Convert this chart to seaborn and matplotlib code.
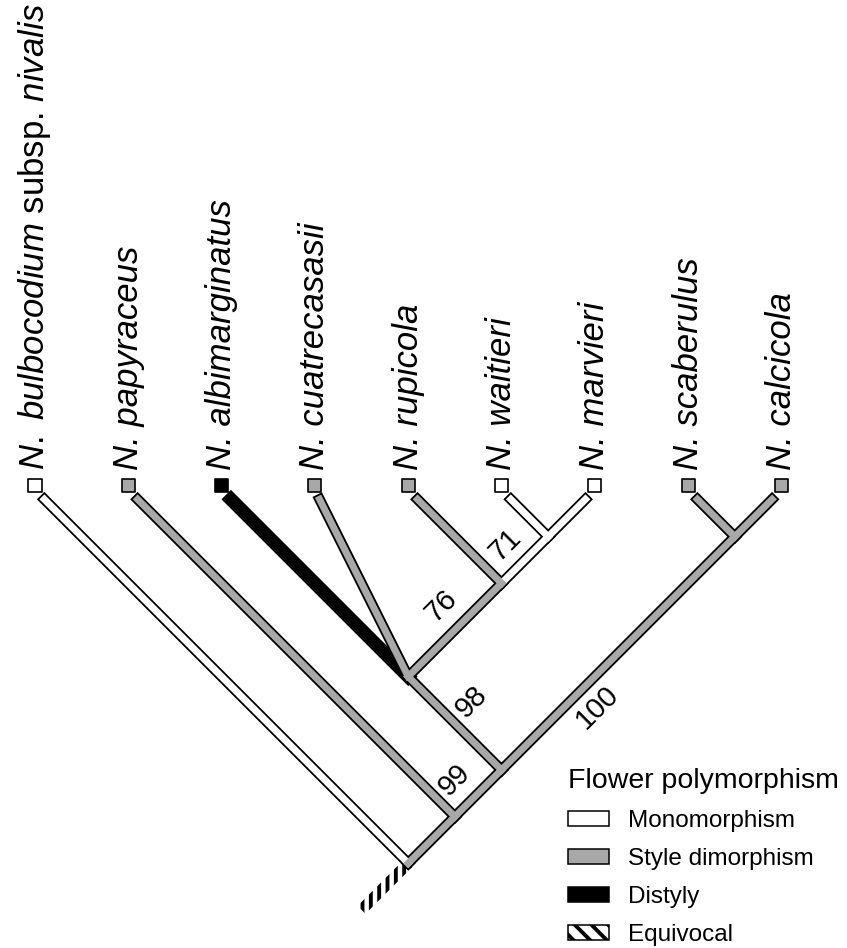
import numpy as np
import pandas as pd
import seaborn as sns
import matplotlib.pyplot as plt
from matplotlib.patches import Patch, Polygon

# tips, left to right
tips = ["N. bulbocodium subsp. nivalis", "N. papyraceus", "N. albimarginatus",
        "N. cuatrecasasii", "N. rupicola", "N. waitieri", "N. marvieri",
        "N. scaberulus", "N. calcicola"]
tip_states = ["Monomorphism", "Style dimorphism", "Distyly", "Style dimorphism",
              "Style dimorphism", "Monomorphism", "Monomorphism",
              "Style dimorphism", "Style dimorphism"]

# internal nodes (children left to right), state of the branch below each node
node_names = ["F", "E", "C", "D", "B", "A", "root"]
node_children = [["N. waitieri", "N. marvieri"],
                 ["N. rupicola", "F"],
                 ["N. albimarginatus", "N. cuatrecasasii", "E"],
                 ["N. scaberulus", "N. calcicola"],
                 ["C", "D"],
                 ["N. papyraceus", "B"],
                 ["N. bulbocodium subsp. nivalis", "A"]]
node_states = ["Monomorphism", "Style dimorphism", "Style dimorphism",
               "Style dimorphism", "Style dimorphism", "Style dimorphism",
               "Equivocal"]
node_support = [71, 76, 98, 100, 99, None, None]

legend_states = ["Monomorphism", "Style dimorphism", "Distyly", "Equivocal"]

palette = {"Monomorphism": "white", "Style dimorphism": "#a8a8a8",
           "Distyly": "black", "Equivocal": "white"}

# where the support numbers sit, relative to their node
label_offsets = {"F": (-0.46, 0.09), "E": (-0.64, 0.24), "C": (0.68, 0.27),
                 "D": (-1.47, 1.83), "B": (-0.50, 0.11)}

sns.set_theme(style="white")
plt.rcParams['font.family'] = ['Liberation Sans', 'DejaVu Sans']
plt.rcParams['text.color'] = 'black'
plt.rcParams['legend.labelcolor'] = 'black'
plt.rcParams['mathtext.fontset'] = 'custom'
plt.rcParams['mathtext.rm'] = 'Liberation Sans'
plt.rcParams['mathtext.it'] = 'Liberation Sans:italic'
plt.rcParams['hatch.linewidth'] = 2.8

# slanted cladogram layout: x = tip index, y = depth below the tips
pos = {name: (float(i), 0.0) for i, name in enumerate(tips)}
state = dict(zip(tips, tip_states))
for name, kids, st in zip(node_names, node_children, node_states):
    xa, da = pos[kids[0]]
    xb, db = pos[kids[-1]]
    d = (xb - xa + da + db) / 2
    pos[name] = (xa + d - da, d)
    state[name] = st

rows = []
tip_gap = 0.1
for name, kids in zip(node_names, node_children):
    xn, dn = pos[name]
    for k in kids:
        xc, dc = pos[k]
        if k in tips:
            t = tip_gap / (dn - dc)
            xc, dc = xc + t * (xn - xc), dc + t * (dn - dc)
        rows.append({"branch": k, "state": state[k], "x": xc, "d": dc, "o": 0})
        rows.append({"branch": k, "state": state[k], "x": xn, "d": dn, "o": 1})
branches = pd.DataFrame(rows)

fig = plt.figure(figsize=(8.47, 9.48), dpi=100)
ax = fig.add_axes([0, 0, 1, 1])

# outlines
sns.lineplot(data=branches, x="x", y="d", units="branch", estimator=None,
             sort=False, color="black", lw=7.6, solid_capstyle="projecting",
             ax=ax, legend=False)
sns.lineplot(data=branches[branches.state == "Distyly"], x="x", y="d",
             units="branch", estimator=None, sort=False, color="black",
             lw=9.4, solid_capstyle="projecting", ax=ax, legend=False)
# fills
order = ["Distyly", "Monomorphism", "Style dimorphism"]
for st in order:
    sub = branches[branches.state == st]
    sns.lineplot(data=sub, x="x", y="d", units="branch", estimator=None,
                 sort=False, color=palette[st], lw=5.0 if st != "Distyly" else 9.4,
                 solid_capstyle="projecting", ax=ax, legend=False)

# hatched stem below the root
xr, dr = pos["root"]
stem_len = 0.5
hw = 0.06
sx, sd = xr - stem_len, dr + stem_len
px, pd_ = hw / np.sqrt(2), hw / np.sqrt(2)
stem = Polygon([(xr + px, dr + pd_), (xr - px, dr - pd_),
                (sx - px, sd - pd_), (sx + px, sd + pd_)],
               closed=True, facecolor="white", edgecolor="black", lw=0,
               hatch="||", zorder=1)
ax.add_patch(stem)

# tip squares
sns.scatterplot(x=np.arange(len(tips)), y=np.full(len(tips), -0.045),
                hue=tip_states, palette=palette, marker="s", s=90,
                edgecolor="black", linewidth=1.2, legend=False, ax=ax, zorder=5)

# tip labels
for i, name in enumerate(tips):
    if "subsp." in name:
        label = r"$\mathit{N.\ bulbocodium}$ subsp. $\mathit{nivalis}$"
        ax.text(i, -0.21, label, rotation=90, ha="center", va="bottom",
                fontsize=25)
    else:
        ax.text(i, -0.21, name, rotation=90, ha="center", va="bottom",
                fontsize=25, style="italic")

# support values
for name, sup in zip(node_names, node_support):
    if sup is None:
        continue
    dx, dd = label_offsets[name]
    x, d = pos[name]
    ax.text(x + dx, d + dd, str(sup), rotation=45, ha="center", va="center",
            fontsize=21)

handles = []
for st in legend_states:
    if st == "Equivocal":
        handles.append(Patch(facecolor="white", edgecolor="black", lw=1.1,
                             hatch="\\\\", label=st))
    else:
        handles.append(Patch(facecolor=palette[st], edgecolor="black", lw=1.1,
                             label=st))
leg = ax.legend(handles=handles, title="Flower polymorphism", loc="upper left",
                bbox_to_anchor=(568 / 847, 1 - 768 / 948),
                bbox_transform=fig.transFigure, frameon=False, fontsize=17.5,
                title_fontsize=20.5, handlelength=1.7, handleheight=0.6,
                handletextpad=0.75, labelspacing=0.66, borderpad=0,
                borderaxespad=0, alignment="left")
leg.get_title().set_color("black")

ax.set_xlim(-35 / 93.3, (847 - 35) / 93.3)
ax.set_ylim((948 - 490) / 93.3, -490 / 93.3)
ax.axis("off")

fig.savefig("out.png", dpi=100)
